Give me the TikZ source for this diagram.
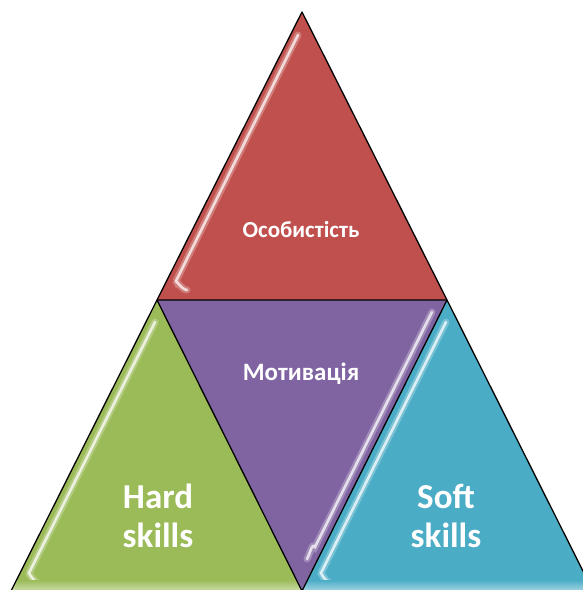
\documentclass[tikz,border=0pt]{standalone}
\usepackage{fontspec}
\setmainfont{Carlito}

\definecolor{redpart}{RGB}{192,80,77}
\definecolor{purplepart}{RGB}{128,100,162}
\definecolor{greenpart}{RGB}{155,187,89}
\definecolor{bluepart}{RGB}{75,172,198}

\tikzset{
  edge/.style={draw=black, line width=1.3pt, line join=round},
  glow/.style={draw=#1!75!white, line width=7pt, line cap=round},
  gloss/.style={draw=#1!20!white, line width=2.6pt, line cap=round},
  smalltext/.style={text=white, inner sep=0pt, font=\bfseries\fontsize{23}{27}\selectfont},
  bigtext/.style={text=white, inner sep=0pt, align=center, font=\bfseries\fontsize{35}{39}\selectfont}
}

\begin{document}
\begin{tikzpicture}[x=1pt,y=-1pt]

\useasboundingbox (0,0) rectangle (583,590);
\clip (0,0) rectangle (583,590);

% Corner points of the four triangles
\coordinate (top) at (302,12);
\coordinate (ml) at (157,300);
\coordinate (mr) at (447,300);
\coordinate (bl) at (11,591);
\coordinate (bm) at (302,591);
\coordinate (br) at (593,591);

% Fill the triangles
\fill[redpart] (top) -- (ml) -- (mr) -- cycle;
\fill[purplepart] (ml) -- (mr) -- (bm) -- cycle;
\fill[greenpart] (ml) -- (bl) -- (bm) -- cycle;
\fill[bluepart] (mr) -- (bm) -- (br) -- cycle;

% Glossy stripes, each kept inside its own triangle
\begin{scope}
  \clip (top) -- (ml) -- (mr) -- cycle;
  \draw[glow=redpart] (298,35) -- (176,281) to[out=120,in=180] (187,290);
  \draw[gloss=redpart] (298,35) -- (176,281) to[out=120,in=180] (187,290);
\end{scope}
\begin{scope}
  \clip (ml) -- (bl) -- (bm) -- cycle;
  \draw[glow=greenpart] (155,322) -- (29,573) to[out=120,in=180] (39,583);
  \draw[gloss=greenpart] (155,322) -- (29,573) to[out=120,in=180] (39,583);
  \shade[top color=greenpart, bottom color=greenpart!50!white] (0,580) rectangle (583,591);
\end{scope}
\begin{scope}
  \clip (mr) -- (bm) -- (br) -- cycle;
  \draw[glow=bluepart] (446,322) -- (321,573) to[out=120,in=180] (331,583);
  \draw[gloss=bluepart] (446,322) -- (321,573) to[out=120,in=180] (331,583);
  \shade[top color=bluepart, bottom color=bluepart!50!white] (0,580) rectangle (583,591);
\end{scope}
\begin{scope}
  \clip (ml) -- (mr) -- (bm) -- cycle;
  \draw[glow=purplepart] (432,312) -- (315,547) to[out=120,in=60] (307,559);
  \draw[gloss=purplepart] (432,312) -- (315,547) to[out=120,in=60] (307,559);
\end{scope}

% Outlines
\draw[edge] (top) -- (ml) -- (mr) -- cycle;
\draw[edge] (ml) -- (bl);
\draw[edge] (mr) -- (br);
\draw[edge] (ml) -- (bm) -- (mr);

% Texts
\node[smalltext] (person) at (301,230) {Особистість};
\node[smalltext, font=\bfseries\fontsize{25}{29}\selectfont] (motive) at (301,374) {Мотивація};
\node[bigtext] (hard) at (158,516) {Hard\\skills};
\node[bigtext] (soft) at (446,516) {Soft\\skills};

\end{tikzpicture}
\end{document}
